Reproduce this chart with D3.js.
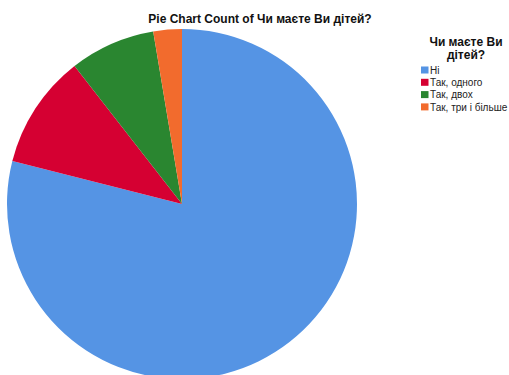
<!DOCTYPE html>
<html>
<head>
<meta charset="utf-8">
<script src="https://cdn.jsdelivr.net/npm/d3@7"></script>
<style>
  html, body { margin: 0; padding: 0; background: #fff; overflow: hidden; }
  svg { display: block; font-family: "Liberation Sans", Arial, sans-serif; }
</style>
</head>
<body>
<svg id="chart" width="509" height="375"></svg>
<script>
// Responses to "Чи маєте Ви дітей?"
const categories = ["Ні", "Так, одного", "Так, двох", "Так, три і більше"];
const counts = [30, 4, 3, 1];
const colors = ["#5594e4", "#d50032", "#2a8630", "#f26b2d"];
const titleText = "Pie Chart Count of Чи маєте Ви дітей?";
const legendTitle = ["Чи маєте Ви", "дітей?"];

const svg = d3.select("#chart");
const cx = 182, cy = 204, radius = 175;

const color = d3.scaleOrdinal().domain(categories).range(colors);
const data = categories.map((c, i) => ({ category: c, count: counts[i] }));

const pie = d3.pie().value(d => d.count).sort(null);
const arc = d3.arc().innerRadius(0).outerRadius(radius);

svg.append("g")
  .attr("transform", `translate(${cx},${cy})`)
  .selectAll("path")
  .data(pie(data))
  .join("path")
  .attr("d", arc)
  .attr("fill", d => color(d.data.category));

// Title
svg.append("text")
  .attr("x", 260).attr("y", 23)
  .attr("text-anchor", "middle")
  .attr("font-size", 12).attr("font-weight", "bold")
  .attr("fill", "#111")
  .text(titleText);

// Legend
const legend = svg.append("g");
legend.selectAll("text.lt")
  .data(legendTitle)
  .join("text")
  .attr("class", "lt")
  .attr("x", 466).attr("y", (d, i) => 46 + i * 13)
  .attr("text-anchor", "middle")
  .attr("font-size", 12).attr("font-weight", "bold")
  .attr("fill", "#111")
  .text(d => d);

const item = legend.selectAll("g.item")
  .data(categories)
  .join("g")
  .attr("class", "item")
  .attr("transform", (d, i) => `translate(421,${66.5 + i * 12.3})`);

item.append("rect")
  .attr("width", 7.5).attr("height", 7)
  .attr("fill", d => color(d));

item.append("text")
  .attr("x", 9).attr("y", 7.3)
  .attr("font-size", 10)
  .attr("fill", "#222")
  .text(d => d);
</script>
</body>
</html>
